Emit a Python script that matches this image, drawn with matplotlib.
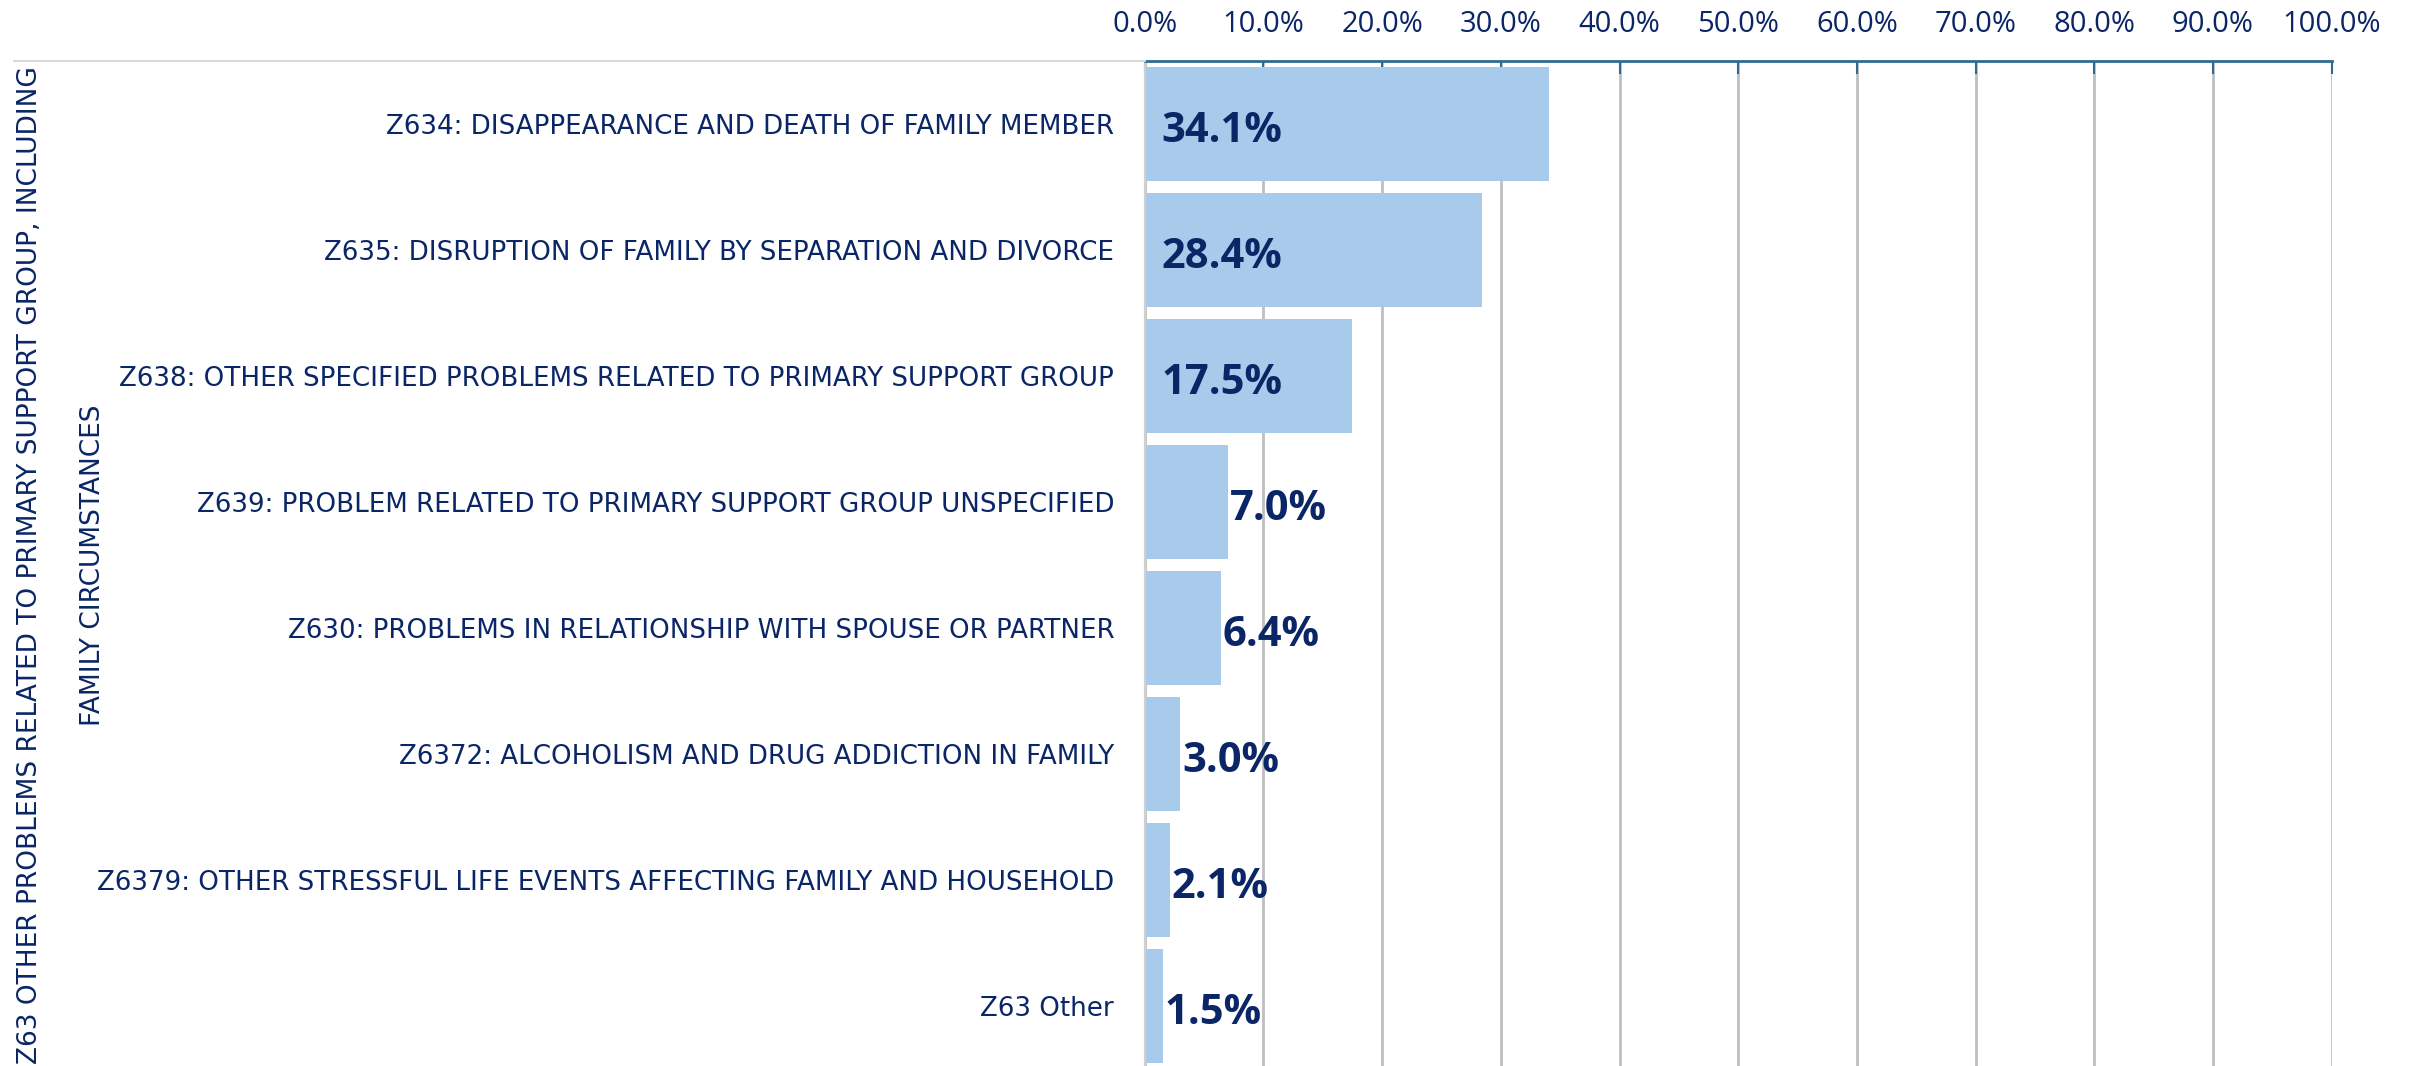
import matplotlib
matplotlib.use("Agg")
import matplotlib.pyplot as plt
from matplotlib.ticker import FuncFormatter

categories = [
    "Z634: DISAPPEARANCE AND DEATH OF FAMILY MEMBER",
    "Z635: DISRUPTION OF FAMILY BY SEPARATION AND DIVORCE",
    "Z638: OTHER SPECIFIED PROBLEMS RELATED TO PRIMARY SUPPORT GROUP",
    "Z639: PROBLEM RELATED TO PRIMARY SUPPORT GROUP UNSPECIFIED",
    "Z630: PROBLEMS IN RELATIONSHIP WITH SPOUSE OR PARTNER",
    "Z6372: ALCOHOLISM AND DRUG ADDICTION IN FAMILY",
    "Z6379: OTHER STRESSFUL LIFE EVENTS AFFECTING FAMILY AND HOUSEHOLD",
    "Z63 Other",
]
values = [34.1, 28.4, 17.5, 7.0, 6.4, 3.0, 2.1, 1.5]
group_label = "Z63 OTHER PROBLEMS RELATED TO PRIMARY SUPPORT GROUP, INCLUDING\nFAMILY CIRCUMSTANCES"
xticks = [0, 10, 20, 30, 40, 50, 60, 70, 80, 90, 100]

NAVY = "#0B2666"
BAR = "#A9CBEB"
GRID = "#BFBFBF"
SPINE = "#2F6B8F"

fig = plt.figure(figsize=(24.10, 10.66), dpi=100)
ax = fig.add_axes([0.475, -0.003, 0.4925, 0.946])

ypos = list(range(len(categories)))
ax.barh(ypos, values, height=0.9, color=BAR, zorder=2)
ax.set_ylim(len(categories) - 0.5, -0.5)
ax.set_xlim(0, 100)

ax.set_xticks(xticks)
ax.xaxis.set_major_formatter(FuncFormatter(lambda v, p: f"{v:.1f}%"))
ax.xaxis.tick_top()
ax.tick_params(axis="x", which="both", direction="in", length=9, width=1.5,
               color=SPINE, labelcolor=NAVY, labelsize=21, pad=16)
for lab in ax.get_xticklabels():
    lab.set_fontfamily("Open Sans")

ax.set_yticks(ypos)
ax.set_yticklabels(categories, fontsize=18.8, color=NAVY, fontfamily="DejaVu Sans")
ax.tick_params(axis="y", length=0, pad=22)

ax.grid(axis="x", color=GRID, linewidth=2, zorder=1)
ax.set_axisbelow(True)
for s in ["right", "bottom"]:
    ax.spines[s].set_visible(False)
ax.spines["top"].set_color(SPINE)
ax.spines["top"].set_linewidth(2)
ax.spines["left"].set_color("#D0D0D0")
ax.spines["left"].set_linewidth(1.5)

for y, v in zip(ypos, values):
    if v > 10:
        x = 1.4
    else:
        x = v + 0.15
    ax.text(x, y + 0.06, f"{v:.1f}%", ha="left", va="center", fontsize=30, fontweight="bold",
            color=NAVY, fontfamily="Open Sans", zorder=3)

# group separator line across label area
fig.add_artist(plt.Line2D([0.006, 0.475], [0.943, 0.943], transform=fig.transFigure,
                          color="#D9D9D9", linewidth=1.5))
fig.text(0.0255, 0.47, group_label, rotation=90, ha="center", va="center",
         fontsize=19, color=NAVY, fontfamily=["Liberation Sans Narrow", "DejaVu Sans"],
         linespacing=2.85, multialignment="center")

fig.savefig("out.png", dpi=100, facecolor="white")
